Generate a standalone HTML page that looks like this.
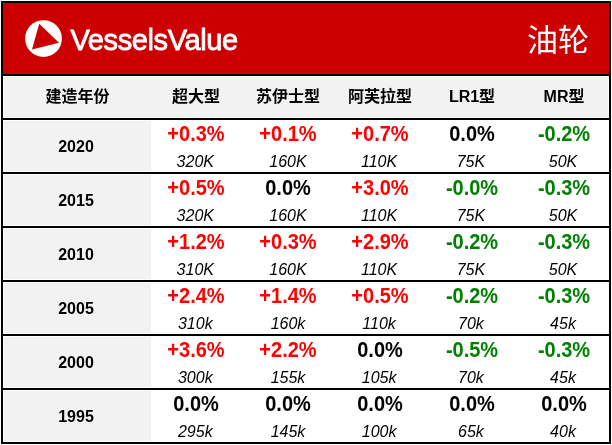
<!DOCTYPE html>
<html><head><meta charset="utf-8"><style>
html,body{margin:0;padding:0;background:#fff;}
body{width:612px;height:445px;position:relative;overflow:hidden;}
#frame{position:absolute;left:1px;top:1px;width:606px;height:439px;border:2px solid #000;background:#fff;}
.abs{position:absolute;}
#hdr{position:absolute;left:3px;top:3px;width:606px;height:71px;background:#cc0000;}
.hl{position:absolute;left:3px;width:606px;height:2px;background:#000;}
#hrow{position:absolute;left:4px;top:77px;width:604px;height:40px;background:#f2f2f2;}
.yc{position:absolute;left:4px;width:147px;height:50px;background:#f2f2f2;}
.h{position:absolute;top:77px;width:92.0px;height:40px;line-height:40px;text-align:center;
  font-family:"Liberation Sans","Noto Sans CJK SC",sans-serif;font-weight:700;font-size:16px;color:#000;}
#h0{left:4px;width:147px;}
.yr{position:absolute;left:2.5px;width:147px;height:50px;line-height:50px;margin-top:1px;text-align:center;
  font-family:"Liberation Sans",sans-serif;font-weight:700;font-size:16px;color:#000;}
.v{position:absolute;width:92.0px;text-align:center;font-family:"Liberation Sans",sans-serif;font-weight:700;
  font-size:20px;line-height:24px;margin-top:2px;transform:scaleY(1.06);}
.s{position:absolute;width:92.0px;text-align:center;font-family:"Liberation Sans",sans-serif;font-style:italic;
  font-size:16px;line-height:20px;margin-top:31.6px;color:#000;}
.p{color:#ff0000;} .n{color:#008000;} .z{color:#000;}
#logo{position:absolute;left:0;top:0;}
#brand{position:absolute;left:70.5px;top:21.5px;font-family:"Liberation Sans",sans-serif;font-size:29px;line-height:36px;letter-spacing:-0.4px;color:#fff;-webkit-text-stroke:0.8px #fff;}
#ttl{position:absolute;left:527px;top:19px;font-family:"Liberation Sans","Noto Sans CJK SC",sans-serif;font-size:31px;line-height:44px;font-weight:400;color:#fff;}
</style></head><body>
<div id="frame"></div>
<div id="hdr"></div>
<svg id="logo" width="612" height="80" viewBox="0 0 612 80">
<circle cx="43.5" cy="38.6" r="18.4" fill="#fff"/>
<polygon points="39.2,23.7 59,42.8 32,49.6" fill="#cc0000"/>
</svg>
<div id="brand">VesselsValue</div>
<div id="ttl">油轮</div>
<div class="hl" style="top:74px"></div>
<div id="hrow"></div>
<div class="h" id="h0">建造年份</div>
<div class="h" style="left:150.0px">超大型</div><div class="h" style="left:242.0px">苏伊士型</div><div class="h" style="left:334.0px">阿芙拉型</div><div class="h" style="left:426.0px">LR1型</div><div class="h" style="left:518.0px">MR型</div>
<div class="hl" style="top:118px"></div>
<div class="yc" style="top:121px"></div><div class="yr" style="top:121px">2020</div><div class="hl" style="top:172px"></div><div class="v p" style="left:150.0px;top:120px">+0.3%</div><div class="s" style="left:149.3px;top:120px">320K</div><div class="v p" style="left:242.0px;top:120px">+0.1%</div><div class="s" style="left:242.0px;top:120px">160K</div><div class="v p" style="left:334.0px;top:120px">+0.7%</div><div class="s" style="left:333.1px;top:120px">110K</div><div class="v z" style="left:426.0px;top:120px">0.0%</div><div class="s" style="left:424.9px;top:120px">75K</div><div class="v n" style="left:518.0px;top:120px">-0.2%</div><div class="s" style="left:517.0px;top:120px">50K</div><div class="yc" style="top:175px"></div><div class="yr" style="top:175px">2015</div><div class="hl" style="top:226px"></div><div class="v p" style="left:150.0px;top:174px">+0.5%</div><div class="s" style="left:149.3px;top:174px">320K</div><div class="v z" style="left:242.0px;top:174px">0.0%</div><div class="s" style="left:242.0px;top:174px">160K</div><div class="v p" style="left:334.0px;top:174px">+3.0%</div><div class="s" style="left:333.1px;top:174px">110K</div><div class="v n" style="left:426.0px;top:174px">-0.0%</div><div class="s" style="left:424.9px;top:174px">75K</div><div class="v n" style="left:518.0px;top:174px">-0.3%</div><div class="s" style="left:517.0px;top:174px">50K</div><div class="yc" style="top:229px"></div><div class="yr" style="top:229px">2010</div><div class="hl" style="top:280px"></div><div class="v p" style="left:150.0px;top:228px">+1.2%</div><div class="s" style="left:149.3px;top:228px">310K</div><div class="v p" style="left:242.0px;top:228px">+0.3%</div><div class="s" style="left:242.0px;top:228px">160K</div><div class="v p" style="left:334.0px;top:228px">+2.9%</div><div class="s" style="left:333.1px;top:228px">110K</div><div class="v n" style="left:426.0px;top:228px">-0.2%</div><div class="s" style="left:424.9px;top:228px">75K</div><div class="v n" style="left:518.0px;top:228px">-0.3%</div><div class="s" style="left:517.0px;top:228px">50K</div><div class="yc" style="top:283px"></div><div class="yr" style="top:283px">2005</div><div class="hl" style="top:334px"></div><div class="v p" style="left:150.0px;top:282px">+2.4%</div><div class="s" style="left:149.3px;top:282px">310k</div><div class="v p" style="left:242.0px;top:282px">+1.4%</div><div class="s" style="left:242.0px;top:282px">160k</div><div class="v p" style="left:334.0px;top:282px">+0.5%</div><div class="s" style="left:333.1px;top:282px">110k</div><div class="v n" style="left:426.0px;top:282px">-0.2%</div><div class="s" style="left:424.9px;top:282px">70k</div><div class="v n" style="left:518.0px;top:282px">-0.3%</div><div class="s" style="left:517.0px;top:282px">45k</div><div class="yc" style="top:337px"></div><div class="yr" style="top:337px">2000</div><div class="hl" style="top:388px"></div><div class="v p" style="left:150.0px;top:336px">+3.6%</div><div class="s" style="left:149.3px;top:336px">300k</div><div class="v p" style="left:242.0px;top:336px">+2.2%</div><div class="s" style="left:242.0px;top:336px">155k</div><div class="v z" style="left:334.0px;top:336px">0.0%</div><div class="s" style="left:333.1px;top:336px">105k</div><div class="v n" style="left:426.0px;top:336px">-0.5%</div><div class="s" style="left:424.9px;top:336px">70k</div><div class="v n" style="left:518.0px;top:336px">-0.3%</div><div class="s" style="left:517.0px;top:336px">45k</div><div class="yc" style="top:391px"></div><div class="yr" style="top:391px">1995</div><div class="v z" style="left:150.0px;top:390px">0.0%</div><div class="s" style="left:149.3px;top:390px">295k</div><div class="v z" style="left:242.0px;top:390px">0.0%</div><div class="s" style="left:242.0px;top:390px">145k</div><div class="v z" style="left:334.0px;top:390px">0.0%</div><div class="s" style="left:333.1px;top:390px">100k</div><div class="v z" style="left:426.0px;top:390px">0.0%</div><div class="s" style="left:424.9px;top:390px">65k</div><div class="v z" style="left:518.0px;top:390px">0.0%</div><div class="s" style="left:517.0px;top:390px">40k</div>
</body></html>
